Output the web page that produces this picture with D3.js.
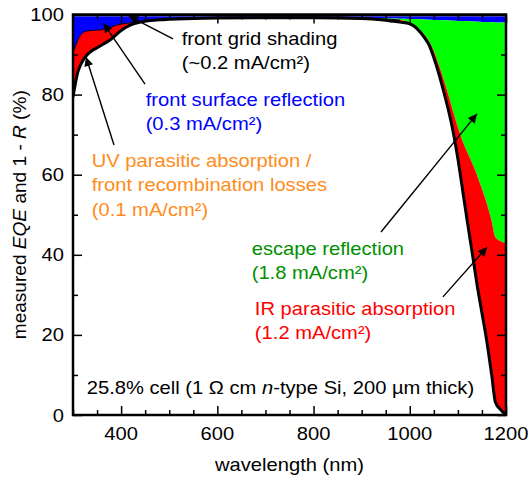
<!DOCTYPE html>
<html>
<head>
<meta charset="utf-8">
<script src="https://cdn.jsdelivr.net/npm/d3@7"></script>
<style>
  body { margin: 0; background: #fff; }
  text { font-family: Arial, "Liberation Sans", sans-serif; font-size: 18px; }
</style>
</head>
<body>
<div id="chart"></div>
<script>
// wavelength grid (nm)
var wavelengths = [300, 305, 310, 315, 320, 330, 340, 350, 360, 370, 380, 390, 400, 420, 440, 460, 480, 500, 550, 600, 700, 800, 900, 940, 960, 980, 1000, 1010, 1020, 1030, 1040, 1050, 1060, 1070, 1080, 1090, 1100, 1110, 1120, 1130, 1140, 1150, 1160, 1170, 1178, 1190, 1200];
// measured EQE (%)
var eqe = [79.4, 82.8, 85.6, 87.2, 88.4, 90.0, 91.0, 91.7, 92.4, 93.1, 93.9, 95.0, 96.0, 97.4, 98.1, 98.5, 98.7, 98.8, 99.0, 99.1, 99.2, 99.2, 99.0, 98.7, 98.4, 98.1, 97.7, 97.0, 95.8, 94.3, 92.4, 89.2, 85.4, 81.0, 76.3, 70.8, 64.0, 56.0, 48.0, 40.3, 32.4, 25.5, 18.5, 10.2, 3.2, 1.2, 0.0];
// 1 - R, total (%)
var oneMinusR = [90.4, 92.0, 93.6, 94.7, 95.4, 95.9, 96.0, 96.1, 96.2, 96.5, 96.9, 97.3, 97.6, 97.9, 98.2, 98.5, 98.8, 99.0, 99.2, 99.3, 99.4, 99.4, 99.2, 98.9, 98.8, 98.6, 97.9, 97.3, 96.3, 95.0, 93.3, 90.8, 87.5, 83.9, 80.0, 75.8, 71.8, 68.3, 65.5, 62.8, 59.8, 56.4, 52.8, 48.5, 44.3, 43.3, 42.8];
// 1 - R, front surface only (%)
var oneMinusRfront = [90.4, 92.0, 93.6, 94.7, 95.4, 95.9, 96.0, 96.1, 96.2, 96.5, 96.9, 97.3, 97.6, 97.9, 98.2, 98.5, 98.8, 99.0, 99.2, 99.3, 99.4, 99.4, 99.2, 99.1, 99.0, 98.95, 98.9, 98.85, 98.8, 98.75, 98.7, 98.65, 98.6, 98.55, 98.5, 98.45, 98.4, 98.35, 98.3, 98.25, 98.2, 98.15, 98.1, 98.05, 98.03, 98.0, 98.0];
// 100 - grid shading (%)
var gridLine = [99.5, 99.5, 99.5, 99.5, 99.5, 99.5, 99.5, 99.5, 99.5, 99.5, 99.5, 99.5, 99.5, 99.5, 99.5, 99.5, 99.5, 99.5, 99.5, 99.5, 99.5, 99.5, 99.5, 99.5, 99.5, 99.5, 99.5, 99.5, 99.5, 99.5, 99.5, 99.5, 99.5, 99.5, 99.5, 99.5, 99.5, 99.5, 99.5, 99.5, 99.5, 99.5, 99.5, 99.5, 99.5, 99.5, 99.5];

var xTicks = [400, 600, 800, 1000, 1200];
var yTicks = [0, 20, 40, 60, 80, 100];

var margin = { top: 14.5, right: 23, bottom: 65, left: 73 },
    width = 529 - margin.left - margin.right,
    height = 480 - margin.top - margin.bottom;

// text in the original figure is a little wider than Arial
var sx = 1.12;

var svg = d3.select("#chart")
    .append("svg")
    .attr("width", 529)
    .attr("height", 480);

var g = svg.append("g")
    .attr("transform", "translate(" + margin.left + "," + margin.top + ")");

var x = d3.scaleLinear().domain([300, 1200]).range([0, width]);
var y = d3.scaleLinear().domain([0, 100]).range([height, 0]);

var data = wavelengths.map(function (w, i) {
    return { w: w, eqe: eqe[i], t: oneMinusR[i], f: oneMinusRfront[i], gr: gridLine[i] };
});

g.append("clipPath").attr("id", "clip")
    .append("rect").attr("width", width).attr("height", height);

var layers = g.append("g").attr("clip-path", "url(#clip)");

function band(lo, hi) {
    return d3.area()
        .x(function (d) { return x(d.w); })
        .y0(function (d) { return y(lo(d)); })
        .y1(function (d) { return y(hi(d)); })
        .curve(d3.curveMonotoneX);
}

// grid shading (black), front reflection (blue), escape (green), parasitic (red)
layers.append("path").datum(data).attr("fill", "#000")
    .attr("d", band(function (d) { return d.gr; }, function () { return 100; }));
layers.append("path").datum(data).attr("fill", "#0000ff")
    .attr("d", band(function (d) { return d.f; }, function (d) { return d.gr; }));
layers.append("path").datum(data).attr("fill", "#00ff00")
    .attr("d", band(function (d) { return d.t; }, function (d) { return d.f; }));
layers.append("path").datum(data).attr("fill", "#ff0000")
    .attr("d", band(function (d) { return d.eqe; }, function (d) { return d.t; }));

var line = function (key) {
    return d3.line()
        .x(function (d) { return x(d.w); })
        .y(function (d) { return y(d[key]); })
        .curve(d3.curveMonotoneX);
};

layers.append("path").datum(data.filter(function (d) { return d.w < 990; }))
    .attr("fill", "none").attr("stroke", "#000").attr("stroke-width", 1)
    .attr("d", line("t"));
layers.append("path").datum(data)
    .attr("fill", "none").attr("stroke", "#000").attr("stroke-width", 3)
    .attr("d", line("eqe"));

// axes with inward ticks on all sides
function tickAxis(axis, scale, majors, step, lo, hi, len) {
    var minors = d3.range(lo, hi + 0.001, step).filter(function (v) { return majors.indexOf(v) < 0; });
    var a = g.append("g");
    a.call(axis(scale).tickValues(majors).tickSize(len[0]).tickFormat(""));
    var b = g.append("g");
    b.call(axis(scale).tickValues(minors).tickSize(len[1]).tickFormat(""));
    [a, b].forEach(function (s) {
        s.select(".domain").remove();
        s.selectAll("line").attr("stroke", "#000").attr("stroke-width", 1.5);
    });
    return [a, b];
}

tickAxis(d3.axisTop, x, xTicks, 50, 300, 1200, [9, 5]).forEach(function (s) {
    s.attr("transform", "translate(0," + height + ")");
});
tickAxis(d3.axisBottom, x, xTicks, 50, 300, 1200, [9, 5]);
tickAxis(d3.axisRight, y, yTicks, 10, 0, 100, [9, 5]);
tickAxis(d3.axisLeft, y, yTicks, 10, 0, 100, [9, 5]).forEach(function (s) {
    s.attr("transform", "translate(" + width + ",0)");
});

// frame
g.append("rect")
    .attr("width", width).attr("height", height)
    .attr("fill", "none").attr("stroke", "#000").attr("stroke-width", 2.5);

// stretched text helper
function put(px, py, anchor) {
    return g.append("text")
        .attr("transform", "translate(" + px + "," + py + ") scale(" + sx + ",1)")
        .attr("text-anchor", anchor || "start");
}

// tick labels
xTicks.forEach(function (d) {
    put(x(d), height + 24.5, "middle").text(d);
});
yTicks.forEach(function (d) {
    put(-9, y(d) + 6.5, "end").text(d);
});

// axis titles
put(width / 2, height + 55.5, "middle").text("wavelength (nm)");

var yl = g.append("text")
    .attr("transform", "translate(" + (-47) + "," + (height / 2) + ") rotate(-90) scale(1.06,1)")
    .attr("text-anchor", "middle");
yl.append("tspan").text("measured ");
yl.append("tspan").style("font-style", "italic").text("EQE");
yl.append("tspan").text(" and 1 - ");
yl.append("tspan").style("font-style", "italic").text("R");
yl.append("tspan").text(" (%)");

// annotations
var defs = svg.append("defs");
defs.append("marker")
    .attr("id", "head")
    .attr("viewBox", "0 0 10 10")
    .attr("refX", 10).attr("refY", 5)
    .attr("markerWidth", 11).attr("markerHeight", 9)
    .attr("markerUnits", "userSpaceOnUse")
    .attr("orient", "auto")
    .append("path").attr("d", "M0,0L10,5L0,10Z").attr("fill", "#000");

var arrows = [
    [507.9, 93.9, 416.4, 99.6],
    [449.7, 82.6, 363.4, 97.8],
    [385.2, 67.4, 327.0, 89.4],
    [940.2, 45.7, 1139.7, 75.2],
    [1069.0, 29.5, 1160.5, 41.9]
];
g.selectAll(".arrow").data(arrows).enter().append("line")
    .attr("x1", function (d) { return x(d[0]); })
    .attr("y1", function (d) { return y(d[1]); })
    .attr("x2", function (d) { return x(d[2]); })
    .attr("y2", function (d) { return y(d[3]); })
    .attr("stroke", "#000").attr("stroke-width", 1.4)
    .attr("marker-end", "url(#head)");

function label(w, v, lines, color) {
    lines.forEach(function (s, i) {
        put(x(w), y(v) + i * 24.5).attr("fill", color).text(s);
    });
}

label(526, 92.4, ["front grid shading", "(~0.2 mA/cm²)"], "#000");
label(451, 77.2, ["front surface reflection", "(0.3 mA/cm²)"], "#0000ff");
label(339, 62.0, ["UV parasitic absorption /", "front recombination losses", "(0.1 mA/cm²)"], "#ff8c1a");
label(671.4, 40.0, ["escape reflection", "(1.8 mA/cm²)"], "#008f00");
label(678, 25.0, ["IR parasitic absorption", "(1.2 mA/cm²)"], "#ff0000");

var cell = put(x(328.5), y(5.2));
cell.append("tspan").text("25.8% cell (1 Ω cm ");
cell.append("tspan").style("font-style", "italic").text("n");
cell.append("tspan").text("-type Si, 200 µm thick)");
</script>
</body>
</html>
